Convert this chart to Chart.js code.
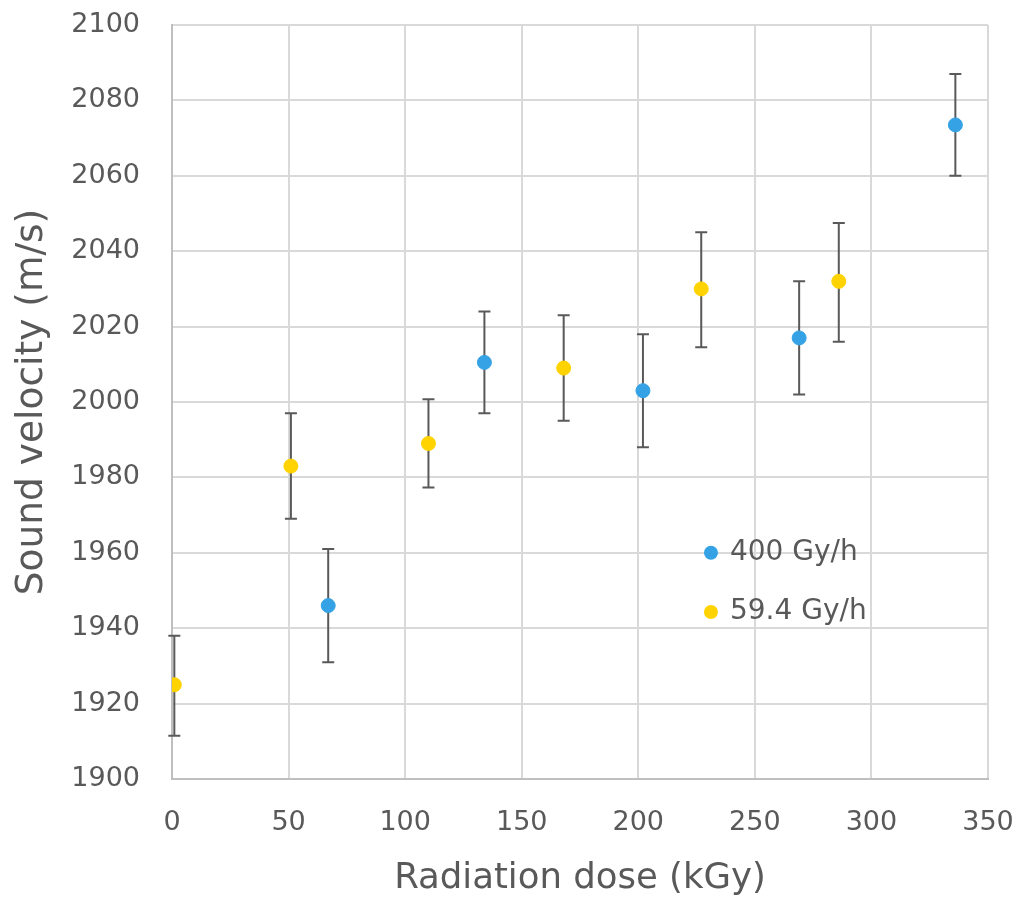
<!DOCTYPE html>
<html>
<head>
<meta charset="utf-8">
<script src="https://cdn.jsdelivr.net/npm/chart.js@4/dist/chart.umd.min.js"></script>
<style>
  body { margin: 0; background: #fff; }
  #wrap { width: 1016px; height: 900px; }
</style>
</head>
<body>
<div id="wrap"><canvas id="chart"></canvas></div>
<script>
// 400 Gy/h series
const doseFast = [67, 134, 202, 269, 336];
const velFast = [1946, 2010.5, 2003, 2017, 2073.5];
const errFastUp = [15, 13.5, 15, 15, 13.5];
const errFastDown = [15, 13.5, 15, 15, 13.5];

// 59.4 Gy/h series
const doseSlow = [1, 51, 110, 168, 227, 286];
const velSlow = [1925, 1983, 1989, 2009, 2030, 2032];
const errSlowUp = [13, 14, 11.7, 14, 15, 15.5];
const errSlowDown = [13.5, 14, 11.7, 14, 15.5, 16];

const labels = ["400 Gy/h", "59.4 Gy/h"];
const colors = ["#35a2e5", "#ffd300"];

const font = "'DejaVu Sans', sans-serif";
const textColor = "#595959";

const toPoints = (xs, ys) => xs.map((x, i) => ({ x: x, y: ys[i] }));

const errorBars = {
  id: "errorBars",
  beforeDatasetsDraw(chart) {
    const ctx = chart.ctx;
    const xs = chart.scales.x;
    const ys = chart.scales.y;
    ctx.save();
    ctx.strokeStyle = "#595959";
    ctx.lineWidth = 2;
    chart.data.datasets.forEach((ds) => {
      ds.data.forEach((p, i) => {
        const px = xs.getPixelForValue(p.x);
        const top = ys.getPixelForValue(p.y + ds.errUp[i]);
        const bot = ys.getPixelForValue(p.y - ds.errDown[i]);
        ctx.beginPath();
        ctx.moveTo(px, top);
        ctx.lineTo(px, bot);
        ctx.moveTo(px - 6, top);
        ctx.lineTo(px + 6, top);
        ctx.moveTo(px - 6, bot);
        ctx.lineTo(px + 6, bot);
        ctx.stroke();
      });
    });
    ctx.restore();
  },
};

const insideLegend = {
  id: "insideLegend",
  afterDraw(chart) {
    const ctx = chart.ctx;
    const area = chart.chartArea;
    const w = area.right - area.left;
    const h = area.bottom - area.top;
    const x = area.left + w * 0.6605;
    const rows = [0.700, 0.7785];
    ctx.save();
    ctx.font = "28px " + font;
    ctx.textBaseline = "middle";
    chart.data.datasets.forEach((ds, i) => {
      const y = area.top + h * rows[i];
      ctx.beginPath();
      ctx.fillStyle = ds.backgroundColor;
      ctx.arc(x, y, 7, 0, Math.PI * 2);
      ctx.fill();
      ctx.fillStyle = textColor;
      ctx.fillText(ds.label, x + 19, y);
    });
    ctx.restore();
  },
};

const plainTick = (v) => String(v);

new Chart(document.getElementById("chart"), {
  type: "scatter",
  data: {
    datasets: [
      {
        label: labels[0],
        data: toPoints(doseFast, velFast),
        errUp: errFastUp,
        errDown: errFastDown,
        backgroundColor: colors[0],
        borderColor: colors[0],
        pointRadius: 7,
        pointHoverRadius: 7,
      },
      {
        label: labels[1],
        data: toPoints(doseSlow, velSlow),
        errUp: errSlowUp,
        errDown: errSlowDown,
        backgroundColor: colors[1],
        borderColor: colors[1],
        pointRadius: 7,
        pointHoverRadius: 7,
      },
    ],
  },
  options: {
    responsive: true,
    maintainAspectRatio: false,
    animation: false,
    layout: { padding: { top: 25, right: 28, left: 0, bottom: 0 } },
    plugins: {
      legend: { display: false },
      tooltip: { enabled: false },
    },
    scales: {
      x: {
        type: "linear",
        min: 0,
        max: 350,
        ticks: { stepSize: 50, padding: 28, color: textColor, font: { family: font, size: 27 }, callback: plainTick },
        grid: { color: "#d9d9d9", lineWidth: 2, drawTicks: false },
        border: { color: "#bfbfbf", width: 2 },
        title: {
          display: true,
          text: "Radiation dose (kGy)",
          color: textColor,
          font: { family: font, size: 35.5 },
          padding: 0,
        },
        afterFit: (scale) => {
          scale.height = 121;
          scale.paddingLeft = 0;
          scale.paddingRight = 0;
        },
      },
      y: {
        min: 1900,
        max: 2100,
        ticks: { stepSize: 20, padding: 32, color: textColor, font: { family: font, size: 27 }, callback: plainTick },
        grid: { color: "#d9d9d9", lineWidth: 2, drawTicks: false },
        border: { color: "#bfbfbf", width: 2 },
        title: {
          display: true,
          text: "Sound velocity (m/s)",
          color: textColor,
          font: { family: font, size: 37.5 },
          padding: { top: 10 },
        },
        afterFit: (scale) => {
          scale.width = 172;
          scale.paddingTop = 0;
          scale.paddingBottom = 0;
        },
      },
    },
  },
  plugins: [errorBars, insideLegend],
});
</script>
</body>
</html>
